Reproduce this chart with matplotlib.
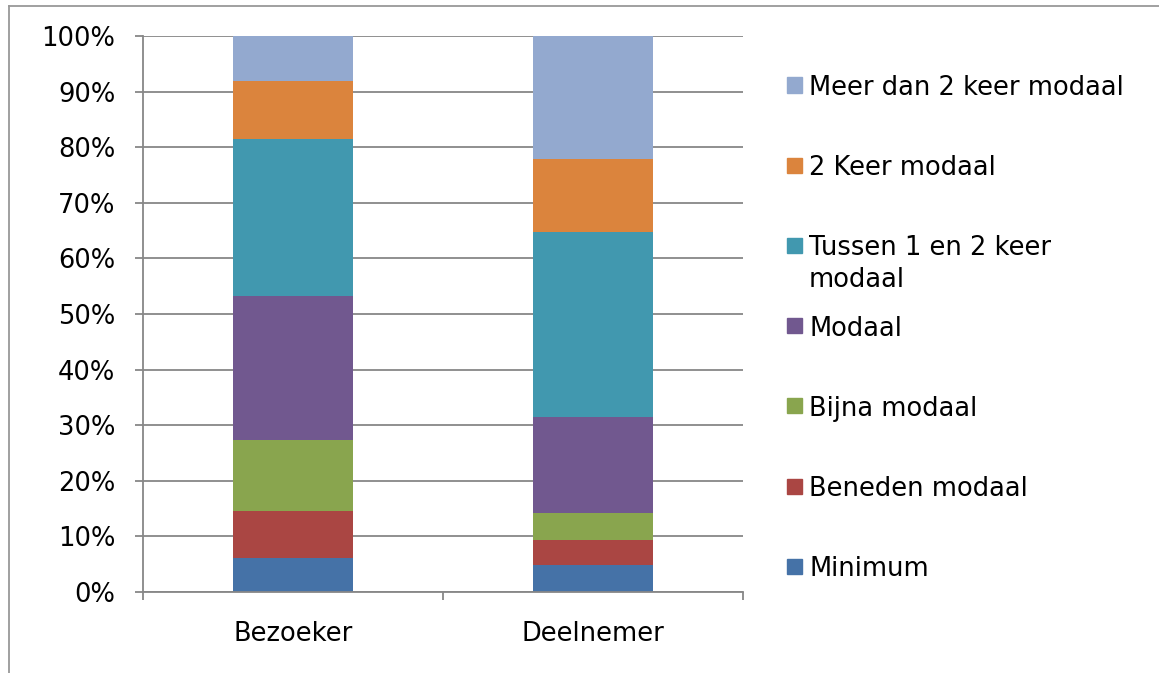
import numpy as np
import matplotlib
matplotlib.use("Agg")
import matplotlib.pyplot as plt
from matplotlib.patches import Rectangle
from matplotlib.lines import Line2D

categories = ["Bezoeker", "Deelnemer"]
series = ["Minimum", "Beneden modaal", "Bijna modaal", "Modaal",
          "Tussen 1 en 2 keer\nmodaal", "2 Keer modaal", "Meer dan 2 keer modaal"]
colors = ["#4572A7", "#AA4643", "#89A54E", "#71588F", "#4198AF", "#DB843D", "#93A9CF"]

# percentages per series, [Bezoeker, Deelnemer]
minimum = [6.2, 4.9]
beneden = [8.3, 4.4]
bijna = [12.8, 4.9]
modaal = [25.9, 17.3]
tussen = [28.3, 33.3]
twee_keer = [10.4, 13.0]
meer = [8.1, 22.2]
values = [minimum, beneden, bijna, modaal, tussen, twee_keer, meer]

W, H = 1159, 673
fig = plt.figure(figsize=(W / 100, H / 100), dpi=100)
ax = fig.add_axes([143 / W, (H - 592) / H, 600 / W, 556 / H])

grey = "#878787"
fs = 18.5

x = np.arange(len(categories))
bottom = np.zeros(len(categories))
for name, vals, c in zip(series, values, colors):
    ax.bar(x, vals, width=0.4, bottom=bottom, color=c, linewidth=0, zorder=3)
    bottom += np.array(vals)

ax.set_xlim(-0.5, 1.5)
ax.set_ylim(0, 100)
ax.set_yticks(np.arange(0, 101, 10))
ax.set_yticklabels([f"{v}%" for v in range(0, 101, 10)], fontsize=fs)
ax.set_xticks(x)
ax.set_xticklabels(categories, fontsize=fs)
ax.set_xticks([-0.5, 0.5, 1.5], minor=True)
ax.tick_params(axis="x", which="major", length=0, pad=21)
ax.tick_params(axis="x", which="minor", length=6, width=1.3, color=grey, direction="out")
ax.tick_params(axis="y", length=6, width=1.3, color=grey, direction="out", pad=14)
ax.grid(axis="y", color=grey, linewidth=1.3, zorder=0)
ax.set_axisbelow(True)
for s in ["top", "right"]:
    ax.spines[s].set_visible(False)
for s in ["left", "bottom"]:
    ax.spines[s].set_color(grey)
    ax.spines[s].set_linewidth(1.3)
    ax.spines[s].set_zorder(4)

# legend, top entry first; wrapped labels get one text per line
for i, (name, c) in enumerate(zip(series[::-1], colors[::-1])):
    yc = 85 + i * 80.2
    fig.patches.append(Rectangle((787 / W, 1 - (yc + 7.5) / H), 15 / W, 15 / H,
                                 transform=fig.transFigure, color=c))
    for k, line in enumerate(name.split("\n")):
        fig.text(809 / W, 1 - (yc + k * 32) / H, line, fontsize=fs,
                 va="center_baseline", ha="left")

# chart border
fig.lines.append(Line2D([9 / W, 1], [1 - 6 / H, 1 - 6 / H], transform=fig.transFigure,
                        color="#999999", linewidth=1.3))
fig.lines.append(Line2D([9 / W, 9 / W], [0, 1 - 6 / H], transform=fig.transFigure,
                        color="#999999", linewidth=1.3))

fig.savefig("out.png", dpi=100)
